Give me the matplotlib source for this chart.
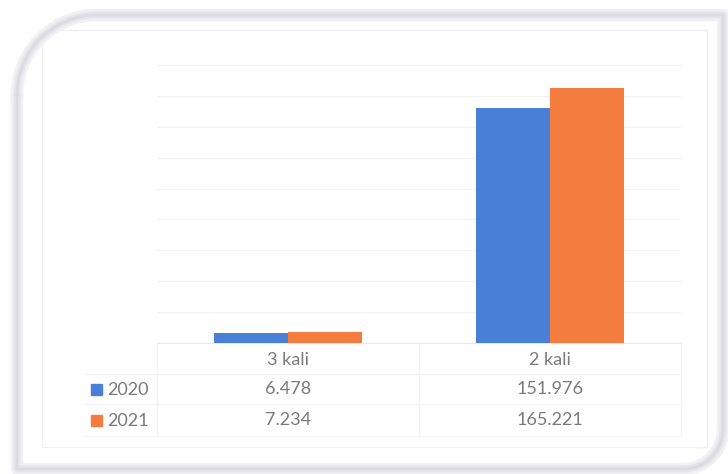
import matplotlib

matplotlib.use("Agg")

import matplotlib.pyplot as plt
import numpy as np
from matplotlib.patches import Rectangle


categories = ["3 kali", "2 kali"]
series_names = ["2020", "2021"]
values_2020 = [6.478, 151.976]
values_2021 = [7.234, 165.221]
labels_2020 = ["6.478", "151.976"]
labels_2021 = ["7.234", "165.221"]

BLUE = "#4a7fd8"
ORANGE = "#f57c3f"
TEXT = "#7a7a7a"
W, H = 728, 474

plt.rcParams["font.family"] = ["Lato", "DejaVu Sans"]

fig = plt.figure(figsize=(W / 100, H / 100), dpi=100)
fig.patch.set_facecolor("white")

# background layer in pixel coordinates
bg = fig.add_axes([0, 0, 1, 1])
bg.set_xlim(0, W)
bg.set_ylim(H, 0)
bg.axis("off")


def _frame_path(x0, y0, x1, y1, r_tl, r_br):
    # rounded top-left and bottom-right corners, square elsewhere
    t1 = np.linspace(np.pi, 1.5 * np.pi, 30)
    t2 = np.linspace(0, 0.5 * np.pi, 30)
    xs = [x0 + r_tl + r_tl * np.cos(t) for t in t1]
    ys = [y0 + r_tl + r_tl * np.sin(t) for t in t1]
    xs += [x1, x1]
    ys += [y0, y1 - r_br]
    xs += [x1 - r_br + r_br * np.cos(t) for t in t2]
    ys += [y1 - r_br + r_br * np.sin(t) for t in t2]
    xs += [x0, x0, xs[0]]
    ys += [y1, y0 + r_tl, ys[0]]
    return xs, ys


fx, fy = _frame_path(17, 15, 723, 469, 80, 40)
for lw, col in [(9, "#f1f1f4"), (5, "#e5e5eb"), (2, "#dbdbe2")]:
    bg.plot(fx, fy, color=col, linewidth=lw, solid_joinstyle="round")

# inner chart area border
bg.add_patch(Rectangle(
    (42, 30), 665, 417,
    fill=False, edgecolor="#f0f0f0", linewidth=1
))

# plot area
left, right, top, base = 157, 681, 65, 343
ax = fig.add_axes([
    left / W, (H - base) / H,
    (right - left) / W, (base - top) / H
])
ax.patch.set_alpha(0)

x = np.arange(len(categories))
bw = 0.284
ax.bar(x - bw / 2, values_2020, bw, color=BLUE, zorder=3)
ax.bar(x + bw / 2, values_2021, bw, color=ORANGE, zorder=3)

ax.set_xlim(-0.5, len(categories) - 0.5)
ax.set_ylim(0, 180)
ax.set_yticks(np.arange(0, 181, 20))
ax.grid(axis="y", color="#f3f3f3", linewidth=0.9, zorder=0)
ax.set_xticks([])
ax.tick_params(axis="y", length=0, labelleft=False)
for s in ["top", "right", "left"]:
    ax.spines[s].set_visible(False)
ax.spines["bottom"].set_color("#e8e8e8")

# data table below plot
trans = ax.get_xaxis_transform()
px = 1 / (base - top)
row_cat = -(360 - base) * px
row_a = -(389 - base) * px
row_b = -(420 - base) * px

for xi, cat in zip(x, categories):
    ax.text(xi, row_cat, cat, transform=trans, ha="center", va="center",
            fontsize=13, color=TEXT)
for xi, lab in zip(x, labels_2020):
    ax.text(xi, row_a, lab, transform=trans, ha="center", va="center",
            fontsize=13, color=TEXT)
for xi, lab in zip(x, labels_2021):
    ax.text(xi, row_b, lab, transform=trans, ha="center", va="center",
            fontsize=13, color=TEXT)

# row headers with legend keys
for name, col, y in [(series_names[0], BLUE, 389), (series_names[1], ORANGE, 420)]:
    bg.add_patch(Rectangle((91, y - 5), 11, 11, color=col))
    bg.text(107, y + 1, name, ha="left", va="center",
            fontsize=13, color=TEXT)

# faint table lines
for y in [374, 404, 436]:
    bg.plot([85, right], [y, y], color="#f3f3f3", linewidth=0.9)
for xv in [left, (left + right) / 2, right]:
    bg.plot([xv, xv], [base, 436], color="#f3f3f3", linewidth=0.9)

fig.savefig("out.png", dpi=100)
